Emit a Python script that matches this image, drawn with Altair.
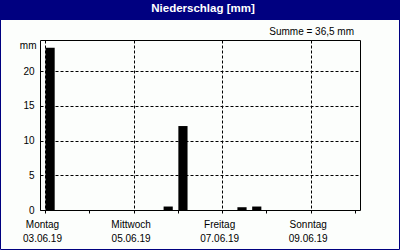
import altair as alt
import pandas as pd

# ---- data ----
slot_starts = [
    "2019-06-03T00:00:00Z",
    "2019-06-05T16:00:00Z",
    "2019-06-06T00:00:00Z",
    "2019-06-07T08:00:00Z",
    "2019-06-07T16:00:00Z",
]
rain_mm = [23.4, 0.5, 12.1, 0.4, 0.5]
day_ticks = ["2019-06-0%dT00:00:00Z" % d for d in range(3, 10)] + ["2019-06-10T00:00:00Z"]
weekday_names = ["Sonntag", "Montag", "Dienstag", "Mittwoch", "Donnerstag", "Freitag", "Samstag"]
y_ticks = [0, 5, 10, 15, 20]
title_text = "Niederschlag [mm]"
sum_text = "Summe = 36,5 mm"
y_unit = "mm"

FONT = "Liberation Sans"
NAVY = "#000080"
BAR_HOURS = 5.25  # drawn bar width inside each 8-hour slot

df = pd.DataFrame({"t": slot_starts, "mm": rain_mm})
tick_ms = [int(pd.Timestamp(s).value // 10**6) for s in day_ticks]
x_domain = [tick_ms[0], tick_ms[-1]]

names_js = "[" + ",".join("'%s'" % n for n in weekday_names) + "]"
label_expr = (
    "utcdate(datum.value) % 2 == 1 ? [" + names_js + "[utcday(datum.value)], "
    "utcFormat(datum.value, '%d.%m.%y')] : ''"
)

x_scale = alt.Scale(type="utc", domain=x_domain)
y_scale = alt.Scale(domain=[0, 24.5], nice=False, zero=True, padding=0)

bars = alt.Chart(df).transform_calculate(
    t_end="time(datetime(datum.t)) + %f" % (BAR_HOURS * 3600 * 1000)
).mark_bar(color="black", xOffset=0.5, orient="vertical").encode(
    x=alt.X(
        "t:T",
        scale=x_scale,
        axis=alt.Axis(
            values=tick_ms,
            title=None,
            labelExpr=label_expr,
            labelLineHeight=14,
            labelPadding=6,
            labelOffset=-3,
            tickSize=3,
            grid=True,
            gridDash=[3, 2],
            gridOpacity=alt.condition("utcdate(datum.value) % 2 == 1", alt.value(1), alt.value(0)),
        ),
    ),
    x2="t_end:T",
    y=alt.Y(
        "mm:Q",
        scale=y_scale,
        axis=alt.Axis(
            values=y_ticks,
            title=y_unit,
            titleAngle=0,
            titleAlign="right",
            titleBaseline="middle",
            titleX=-4,
            titleY=5,
            titleFontWeight="normal",
            titleFontSize=10,
            titleFont=FONT,
            tickSize=0,
            labelPadding=6,
            grid=True,
            gridDash=[3, 2],
        ),
    ),
    y2=alt.datum(0),
)

frame = alt.Chart(df).mark_point(opacity=0).encode(
    x=alt.X("t:T", scale=x_scale,
            axis=alt.Axis(orient="top", labels=False, ticks=False, grid=False, title=None)),
    y=alt.Y("mm:Q", scale=y_scale,
            axis=alt.Axis(orient="right", labels=False, ticks=False, grid=False, title=None)),
)

deco = alt.Data(values=[{"title": title_text, "sum": sum_text}])

title_bar = alt.Chart(deco).mark_rect(color=NAVY).encode(
    x=alt.value(-40), x2=alt.value(360), y=alt.value(-40), y2=alt.value(-20)
)
title_txt = alt.Chart(deco).mark_text(
    color="white", font=FONT, fontSize=11.5, fontWeight="bold", align="center", baseline="middle"
).encode(text="title:N", x=alt.value(163), y=alt.value(-31))
sum_txt = alt.Chart(deco).mark_text(
    color="black", font=FONT, fontSize=10, align="right", baseline="middle"
).encode(text="sum:N", x=alt.value(314), y=alt.value(-8.5))
border = alt.Chart(deco).mark_rect(fill=None, stroke=NAVY, strokeWidth=1).encode(
    x=alt.value(-39.5), x2=alt.value(359.5), y=alt.value(-39.5), y2=alt.value(209.5)
)

chart = (
    alt.layer(bars, frame, title_bar, title_txt, sum_txt, border)
    .resolve_axis(x="independent", y="independent")
    .properties(
        width=320,
        height=170,
        padding={"left": 40, "top": 40, "right": 40, "bottom": 40},
        autosize=alt.AutoSizeParams(type="none"),
        background="#fcfefc",
    )
    .configure_view(stroke=None)
    .configure_axis(
        domainColor="black",
        tickColor="black",
        gridColor="black",
        labelColor="black",
        labelFont=FONT,
        labelFontSize=10,
        titleColor="black",
    )
)

chart.save("out.html", embed_options={"renderer": "svg", "actions": False})
